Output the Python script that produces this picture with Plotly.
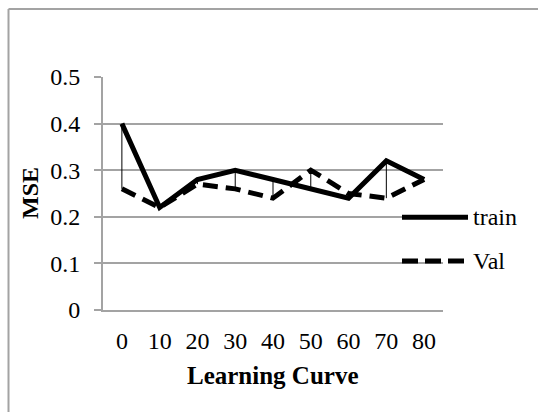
import plotly.graph_objects as go

# Learning-curve data
steps = ["0", "10", "20", "30", "40", "50", "60", "70", "80"]
train_mse = [0.40, 0.22, 0.28, 0.30, 0.28, 0.26, 0.24, 0.32, 0.28]
val_mse = [0.26, 0.22, 0.27, 0.26, 0.24, 0.30, 0.25, 0.24, 0.28]
y_ticks = [0, 0.1, 0.2, 0.3, 0.4, 0.5]

GRID = "#a3a3a3"
FONT = "Liberation Serif"

# Plot-area geometry in pixels (used to place paper-coordinate decorations)
W, H = 538, 412
ML, MR, MT, MB = 103, 95, 77, 102
PW, PH = W - ML - MR, H - MT - MB


def px_x(p):
    return (p - ML) / PW


def px_y(p):
    return (H - MB - p) / PH


# High-low connectors between the two series at each step
hl_x, hl_y = [], []
for s, t, v in zip(steps, train_mse, val_mse):
    hl_x += [s, s, None]
    hl_y += [t, v, None]

fig = go.Figure()
fig.add_trace(go.Scatter(x=hl_x, y=hl_y, mode="lines",
                         line=dict(color="black", width=1),
                         hoverinfo="skip", showlegend=False))
fig.add_trace(go.Scatter(x=steps, y=val_mse, mode="lines", name="Val",
                         line=dict(color="black", width=5, dash="15px,8px")))
fig.add_trace(go.Scatter(x=steps, y=train_mse, mode="lines", name="train",
                         line=dict(color="black", width=5)))

shapes = []
# outer chart frame (left and top edges)
shapes.append(dict(type="line", xref="paper", yref="paper",
                   x0=px_x(8.5), x1=px_x(W + 5), y0=px_y(9), y1=px_y(9),
                   line=dict(color=GRID, width=2)))
shapes.append(dict(type="line", xref="paper", yref="paper",
                   x0=px_x(8.5), x1=px_x(8.5), y0=px_y(9), y1=px_y(H + 5),
                   line=dict(color=GRID, width=2)))

# legend keys
legend_items = [("train", "solid", 217.3), ("Val", "16px,7px", 261)]
annotations = []
for label, dash, py in legend_items:
    shapes.append(dict(type="line", xref="paper", yref="paper",
                       x0=px_x(402), x1=px_x(468), y0=px_y(py), y1=px_y(py),
                       line=dict(color="black", width=5, dash=dash)))
    annotations.append(dict(text=label, xref="paper", yref="paper",
                            x=px_x(471), y=px_y(py), xanchor="left",
                            yanchor="middle", showarrow=False,
                            font=dict(family=FONT, size=24, color="black")))

# axis titles
annotations.append(dict(text="<b>Learning Curve</b>", xref="paper", yref="paper",
                        x=0.5, y=px_y(375), xanchor="center", yanchor="middle",
                        showarrow=False,
                        font=dict(family=FONT, size=25, color="black")))
annotations.append(dict(text="<b>MSE</b>", xref="paper", yref="paper",
                        x=px_x(29.5), y=0.5, xanchor="center", yanchor="middle",
                        textangle=-90, showarrow=False,
                        font=dict(family=FONT, size=24, color="black")))

fig.update_layout(
    width=W, height=H, autosize=False,
    margin=dict(l=ML, r=MR, t=MT, b=MB, pad=0),
    paper_bgcolor="white", plot_bgcolor="white",
    showlegend=False,
    shapes=shapes, annotations=annotations,
    font=dict(family=FONT, size=24, color="black"),
)
fig.update_xaxes(type="category", categoryorder="array", categoryarray=steps,
                 range=[-0.5, len(steps) - 0.5],
                 showgrid=False, zeroline=False,
                 showline=True, linecolor=GRID, linewidth=2,
                 ticks="", ticklabelstandoff=8,
                 tickfont=dict(family=FONT, size=24, color="black"))
fig.update_yaxes(range=[0, 0.5], tickvals=y_ticks,
                 showgrid=True, gridcolor=GRID, gridwidth=2,
                 zeroline=False,
                 showline=True, linecolor=GRID, linewidth=2,
                 ticks="outside", ticklen=7, tickwidth=2, tickcolor=GRID,
                 ticklabelstandoff=9,
                 tickfont=dict(family=FONT, size=24, color="black"))

fig.write_html("out.html")
